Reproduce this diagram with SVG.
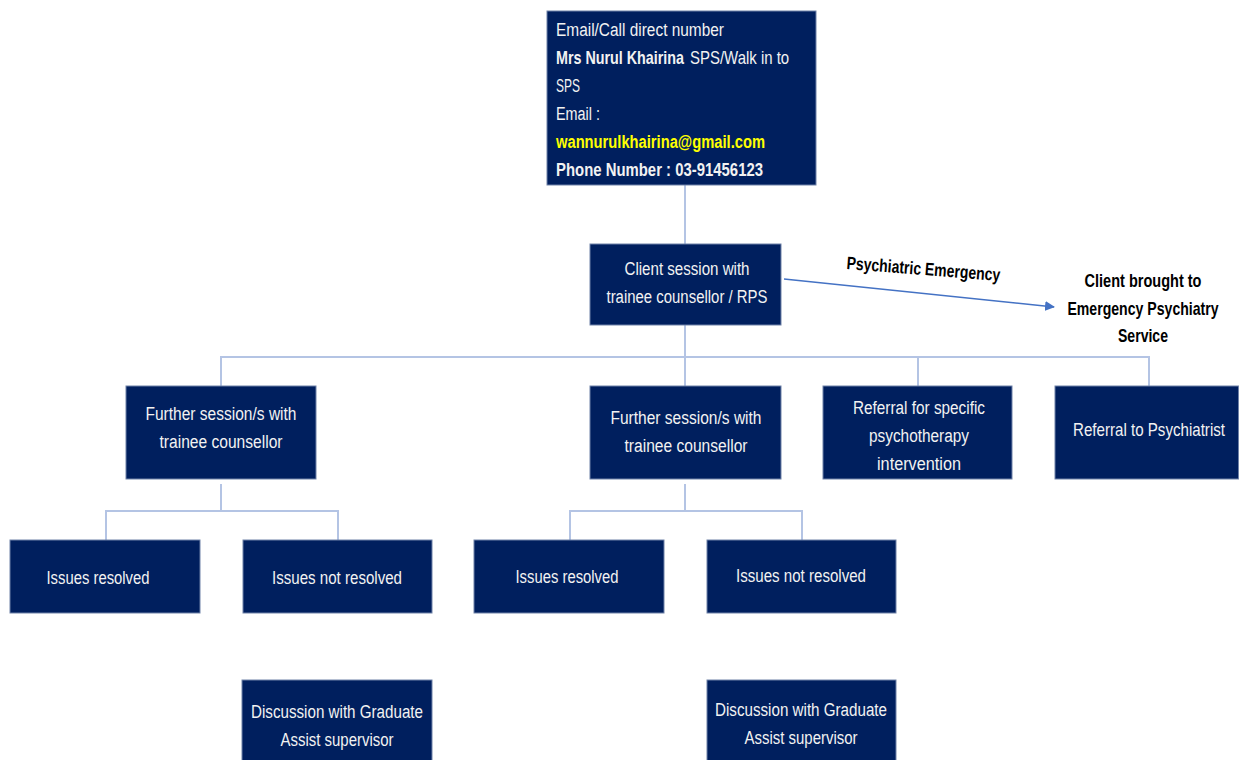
<svg xmlns="http://www.w3.org/2000/svg" width="1239" height="760" viewBox="0 0 1239 760">
<style>
.box{fill:#001F5E;stroke:#6f82a8;stroke-width:1}
.t{font-family:"Liberation Sans",Arial,sans-serif;font-size:18px;fill:#F2F2F2;text-anchor:middle}
.l{text-anchor:start}
.b{font-weight:bold}
.y{fill:#FFFF00}
.k{font-family:"Liberation Sans",Arial,sans-serif;font-size:18px;fill:#000;text-anchor:middle;font-weight:bold}
.c{fill:none;stroke:#B4C4E4;stroke-width:2}
.a{fill:none;stroke:#4472C4;stroke-width:1.5}
</style>
<defs>
<marker id="ah" viewBox="0 0 10 10" refX="9" refY="5" markerWidth="10" markerHeight="10" markerUnits="userSpaceOnUse" orient="auto">
<path d="M0,0 L10,5 L0,10 z" fill="#4472C4"/>
</marker>
</defs>
<rect width="1239" height="760" fill="#fff"/>
<g id="connectors">
<path class="c" d="M685,185 V244"/>
<path class="c" d="M685,325 V386"/>
<path class="c" d="M221,386 V357 H1149 V386 M918,357 V386"/>
<path class="c" d="M221,484 V511 M106,540 V511 H338 V540"/>
<path class="c" d="M685,484 V511 M570,540 V511 H802 V540"/>
<path class="a" d="M784,279 L1054,307" marker-end="url(#ah)"/>
<text class="k" transform="translate(923,275) rotate(4.5)" textLength="154" lengthAdjust="spacingAndGlyphs">Psychiatric Emergency</text>
</g>
<g id="n-contact">
<rect class="box" x="547" y="11" width="269" height="174"/>
<text class="t l" x="556" y="36" textLength="168" lengthAdjust="spacingAndGlyphs">Email/Call direct number</text>
<text class="t l b" transform="translate(556,64) scale(0.8,1)" textLength="160" lengthAdjust="spacingAndGlyphs">Mrs Nurul Khairina</text>
<text class="t l" transform="translate(690,64) scale(0.8,1)" textLength="124" lengthAdjust="spacingAndGlyphs">SPS/Walk in to</text>
<text class="t l" x="556" y="92" textLength="24" lengthAdjust="spacingAndGlyphs">SPS</text>
<text class="t l" x="556" y="120" textLength="44" lengthAdjust="spacingAndGlyphs">Email :</text>
<text class="t l b y" x="556" y="148" textLength="209" lengthAdjust="spacingAndGlyphs">wannurulkhairina@gmail.com</text>
<text class="t l b" x="556" y="176" textLength="207" lengthAdjust="spacingAndGlyphs">Phone Number : 03-91456123</text>
</g>
<g id="n-client">
<rect class="box" x="590" y="244" width="191" height="81"/>
<text class="t" x="687" y="275" textLength="125" lengthAdjust="spacingAndGlyphs">Client session with</text>
<text class="t" x="687" y="303" textLength="161" lengthAdjust="spacingAndGlyphs">trainee counsellor / RPS</text>
</g>
<g id="n-emergency">
<text class="k" x="1143" y="287" textLength="117" lengthAdjust="spacingAndGlyphs">Client brought to</text>
<text class="k" transform="translate(1143,315) scale(0.8,1)" textLength="189" lengthAdjust="spacingAndGlyphs">Emergency Psychiatry</text>
<text class="k" x="1143" y="342" textLength="50" lengthAdjust="spacingAndGlyphs">Service</text>
</g>
<g id="n-further1">
<rect class="box" x="126" y="386" width="190" height="93"/>
<text class="t" x="221" y="420" textLength="151" lengthAdjust="spacingAndGlyphs">Further session/s with</text>
<text class="t" x="221" y="448" textLength="123" lengthAdjust="spacingAndGlyphs">trainee counsellor</text>
</g>
<g id="n-further2">
<rect class="box" x="590" y="386" width="191" height="93"/>
<text class="t" x="686" y="424" textLength="151" lengthAdjust="spacingAndGlyphs">Further session/s with</text>
<text class="t" x="686" y="452" textLength="123" lengthAdjust="spacingAndGlyphs">trainee counsellor</text>
</g>
<g id="n-psychotherapy">
<rect class="box" x="823" y="386" width="189" height="93"/>
<text class="t" x="919" y="414" textLength="132" lengthAdjust="spacingAndGlyphs">Referral for specific</text>
<text class="t" x="919" y="442" textLength="100" lengthAdjust="spacingAndGlyphs">psychotherapy</text>
<text class="t" x="919" y="470" textLength="84" lengthAdjust="spacingAndGlyphs">intervention</text>
</g>
<g id="n-psychiatrist">
<rect class="box" x="1055" y="386" width="183.5" height="93"/>
<text class="t" transform="translate(1149,436) scale(0.8,1)" textLength="190" lengthAdjust="spacingAndGlyphs">Referral to Psychiatrist</text>
</g>
<g id="n-resolved1">
<rect class="box" x="10" y="540" width="190" height="73"/>
<text class="t" x="98" y="584" textLength="103" lengthAdjust="spacingAndGlyphs">Issues resolved</text>
</g>
<g id="n-notresolved1">
<rect class="box" x="243" y="540" width="189" height="73"/>
<text class="t" x="337" y="584" textLength="130" lengthAdjust="spacingAndGlyphs">Issues not resolved</text>
</g>
<g id="n-resolved2">
<rect class="box" x="474" y="540" width="190" height="73"/>
<text class="t" x="567" y="583" textLength="103" lengthAdjust="spacingAndGlyphs">Issues resolved</text>
</g>
<g id="n-notresolved2">
<rect class="box" x="707" y="540" width="189" height="73"/>
<text class="t" x="801" y="582" textLength="130" lengthAdjust="spacingAndGlyphs">Issues not resolved</text>
</g>
<g id="n-discussion1">
<rect class="box" x="242" y="680" width="190" height="85"/>
<text class="t" x="337" y="718" textLength="172" lengthAdjust="spacingAndGlyphs">Discussion with Graduate</text>
<text class="t" x="337" y="746" textLength="113" lengthAdjust="spacingAndGlyphs">Assist supervisor</text>
</g>
<g id="n-discussion2">
<rect class="box" x="707" y="680" width="189" height="85"/>
<text class="t" x="801" y="716" textLength="172" lengthAdjust="spacingAndGlyphs">Discussion with Graduate</text>
<text class="t" x="801" y="744" textLength="113" lengthAdjust="spacingAndGlyphs">Assist supervisor</text>
</g>
</svg>
